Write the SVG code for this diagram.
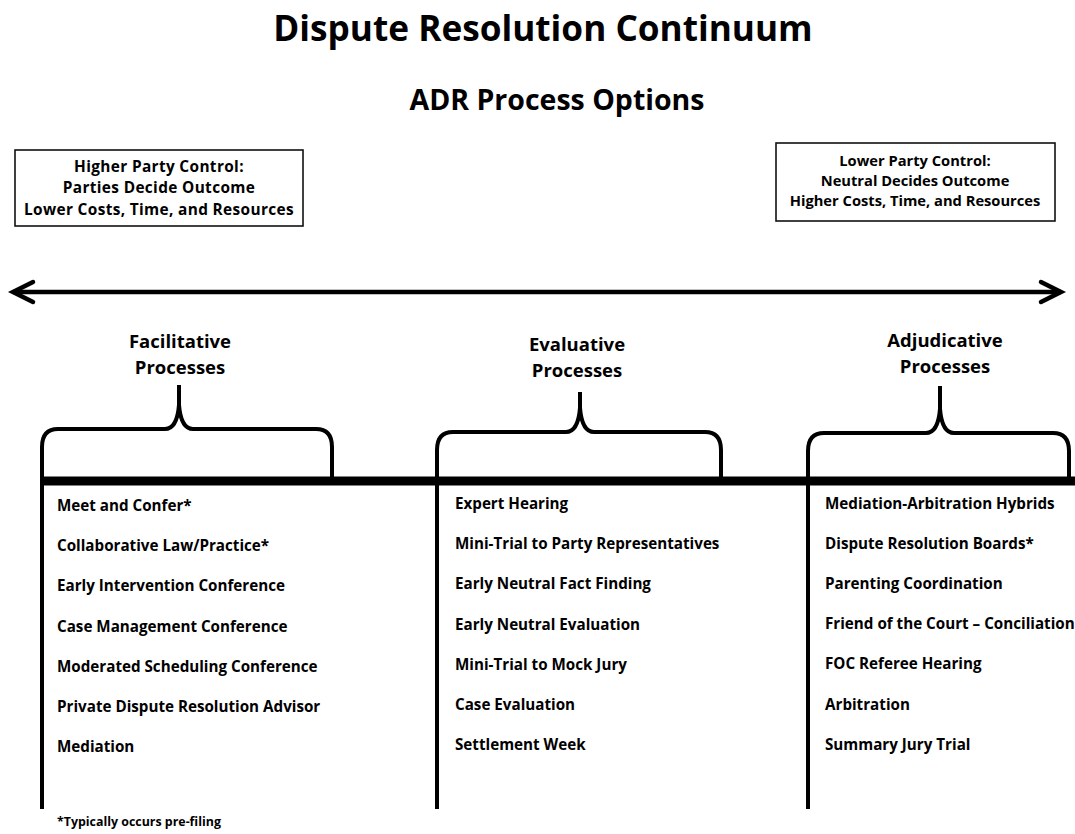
<svg xmlns="http://www.w3.org/2000/svg" width="1075" height="834" viewBox="0 0 1075 834">
<style>
text{font-family:"Open Sans","Noto Sans",sans-serif;font-weight:bold;fill:#000}
.title{font-size:35.2px}
.sub{font-size:28.5px}
.box{fill:#fff;stroke:#111;stroke-width:1.6}
.btl{font-size:15.4px;letter-spacing:0.35px}
.btr{font-size:14.7px}
.cat{font-size:18.5px}
.item{font-size:15.2px}
.foot{font-size:12.4px}
.brace{fill:none;stroke:#000;stroke-width:4;stroke-linejoin:round;stroke-linecap:butt}
.vline{stroke:#000;stroke-width:4}
</style>
<defs>
<marker id="chev" markerUnits="userSpaceOnUse" markerWidth="30" markerHeight="30" viewBox="-25 -15 30 30" refX="0" refY="0" orient="auto-start-reverse" overflow="visible">
<path d="M-20,-10 L0,0 L-20,10" fill="none" stroke="#000" stroke-width="4.5" stroke-linecap="round" stroke-linejoin="miter"/>
</marker>
</defs>
<rect width="1075" height="834" fill="#fff"/>
<g id="title">
<text class="title" x="543" y="41" text-anchor="middle">Dispute Resolution Continuum</text>
<text class="sub" x="557" y="110" text-anchor="middle">ADR Process Options</text>
</g>
<g id="box-left">
<rect class="box" x="15" y="150" width="288" height="76"/>
<text class="btl" x="159" y="172" text-anchor="middle">Higher Party Control:</text>
<text class="btl" x="159" y="193" text-anchor="middle">Parties Decide Outcome</text>
<text class="btl" x="159" y="215" text-anchor="middle">Lower Costs, Time, and Resources</text>
</g>
<g id="box-right">
<rect class="box" x="776" y="143" width="279" height="78"/>
<text class="btr" x="915" y="166" text-anchor="middle">Lower Party Control:</text>
<text class="btr" x="915" y="186" text-anchor="middle">Neutral Decides Outcome</text>
<text class="btr" x="915" y="206" text-anchor="middle">Higher Costs, Time, and Resources</text>
</g>
<g id="connectors">
<line x1="13" y1="292" x2="1061" y2="292" stroke="#000" stroke-width="4.5" marker-start="url(#chev)" marker-end="url(#chev)"/>
<line x1="40" y1="481" x2="1075" y2="481" stroke="#000" stroke-width="9"/>
<line class="vline" x1="42" y1="477" x2="42" y2="809"/>
<line class="vline" x1="437" y1="477" x2="437" y2="809"/>
<line class="vline" x1="808" y1="477" x2="808" y2="809"/>
</g>
<g id="brace-facilitative">
<path class="brace" d="M42,477 V447 Q42,429 58,429 H165 Q177,429 179,405 Q181,429 193,429 H316 Q332,429 332,447 V477 M179,405 V385"/>
<text class="cat" x="180" y="348" text-anchor="middle">Facilitative</text>
<text class="cat" x="180" y="374" text-anchor="middle">Processes</text>
</g>
<g id="brace-evaluative">
<path class="brace" d="M437,477 V450 Q437,432 453,432 H566 Q578,432 580,408 Q582,432 594,432 H705 Q721,432 721,450 V477 M580,408 V392"/>
<text class="cat" x="577" y="351" text-anchor="middle">Evaluative</text>
<text class="cat" x="577" y="377" text-anchor="middle">Processes</text>
</g>
<g id="brace-adjudicative">
<path class="brace" d="M808,477 V451 Q808,433 824,433 H926 Q938,433 940,409 Q942,433 954,433 H1053 Q1069,433 1069,451 V477 M940,409 V386"/>
<text class="cat" x="945" y="347" text-anchor="middle">Adjudicative</text>
<text class="cat" x="945" y="373" text-anchor="middle">Processes</text>
</g>
<g id="list-facilitative">
<text class="item" x="57" y="511">Meet and Confer*</text>
<text class="item" x="57" y="551">Collaborative Law/Practice*</text>
<text class="item" x="57" y="591">Early Intervention Conference</text>
<text class="item" x="57" y="632">Case Management Conference</text>
<text class="item" x="57" y="672">Moderated Scheduling Conference</text>
<text class="item" x="57" y="712">Private Dispute Resolution Advisor</text>
<text class="item" x="57" y="752">Mediation</text>
</g>
<g id="list-evaluative">
<text class="item" x="455" y="509">Expert Hearing</text>
<text class="item" x="455" y="549">Mini-Trial to Party Representatives</text>
<text class="item" x="455" y="589">Early Neutral Fact Finding</text>
<text class="item" x="455" y="630">Early Neutral Evaluation</text>
<text class="item" x="455" y="670">Mini-Trial to Mock Jury</text>
<text class="item" x="455" y="710">Case Evaluation</text>
<text class="item" x="455" y="750">Settlement Week</text>
</g>
<g id="list-adjudicative">
<text class="item" x="825" y="509">Mediation-Arbitration Hybrids</text>
<text class="item" x="825" y="549">Dispute Resolution Boards*</text>
<text class="item" x="825" y="589">Parenting Coordination</text>
<text class="item" x="825" y="629">Friend of the Court – Conciliation</text>
<text class="item" x="825" y="669">FOC Referee Hearing</text>
<text class="item" x="825" y="710">Arbitration</text>
<text class="item" x="825" y="750">Summary Jury Trial</text>
</g>
<g id="footnote">
<text class="foot" x="57" y="826">*Typically occurs pre-filing</text>
</g>
</svg>
